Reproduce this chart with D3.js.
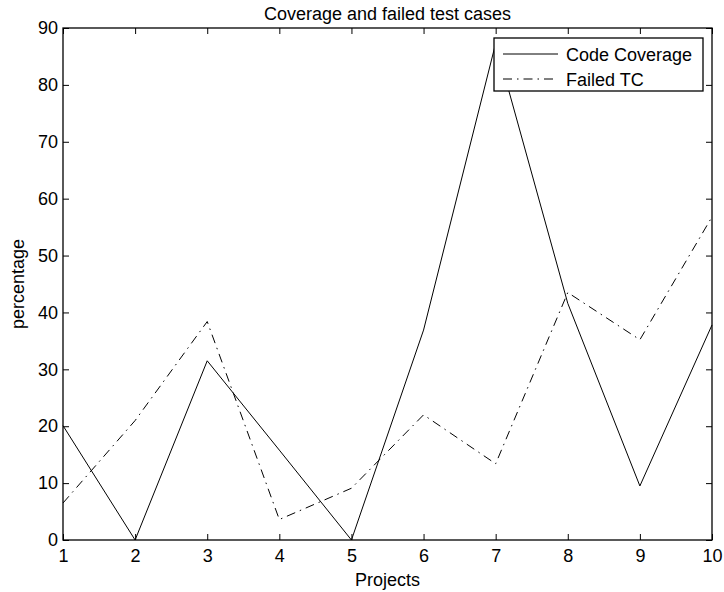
<!DOCTYPE html>
<html>
<head>
<meta charset="utf-8">
<script src="https://cdn.jsdelivr.net/npm/d3@7"></script>
<style>
  body { margin: 0; background: #fff; }
  svg { display: block; font-family: "Liberation Sans", Arial, Helvetica, sans-serif; }
</style>
</head>
<body>
<div id="chart"></div>
<script>
const projects = [1, 2, 3, 4, 5, 6, 7, 8, 9, 10];
const codeCoverage = [20.1, 0, 31.5, 15.8, 0, 36.9, 87.3, 41.6, 9.5, 37.8];
const failedTC = [6.5, 21.0, 38.4, 3.6, 9.1, 22.0, 13.4, 43.5, 35.2, 56.8];
const yTicks = [0, 10, 20, 30, 40, 50, 60, 70, 80, 90];
const seriesNames = ['Code Coverage', 'Failed TC'];

const W = 724, H = 592;
const margin = { top: 28, right: 12, bottom: 52, left: 63 };
const width = W - margin.left - margin.right;
const height = H - margin.top - margin.bottom;

const svg = d3.select('#chart').append('svg')
  .attr('width', W).attr('height', H);
const g = svg.append('g').attr('transform', `translate(${margin.left},${margin.top})`);

const x = d3.scaleLinear().domain([1, 10]).range([0, width]);
const y = d3.scaleLinear().domain([0, 90]).range([height, 0]);

const tickLen = 6;
const fs = '18px';

// Axes (MATLAB style: inward ticks on all four sides)
g.append('g').attr('transform', `translate(0,${height})`)
  .call(d3.axisBottom(x).tickValues(projects).tickSize(-tickLen).tickPadding(9).tickFormat(d3.format('d')))
  .call(a => a.select('.domain').remove())
  .call(a => a.selectAll('.tick line').attr('stroke', '#000'))
  .call(a => a.selectAll('.tick text').attr('fill', '#000').attr('font-size', fs));

g.append('g')
  .call(d3.axisTop(x).tickValues(projects).tickSize(-tickLen).tickFormat(''))
  .call(a => a.select('.domain').remove())
  .call(a => a.selectAll('.tick line').attr('stroke', '#000'));

g.append('g')
  .call(d3.axisLeft(y).tickValues(yTicks).tickSize(-tickLen).tickPadding(5))
  .call(a => a.select('.domain').remove())
  .call(a => a.selectAll('.tick line').attr('stroke', '#000'))
  .call(a => a.selectAll('.tick text').attr('fill', '#000').attr('font-size', fs));

g.append('g').attr('transform', `translate(${width},0)`)
  .call(d3.axisRight(y).tickValues(yTicks).tickSize(-tickLen).tickFormat(''))
  .call(a => a.select('.domain').remove())
  .call(a => a.selectAll('.tick line').attr('stroke', '#000'));

// Frame
g.append('rect').attr('width', width).attr('height', height)
  .attr('fill', 'none').attr('stroke', '#000').attr('stroke-width', 1.3);

// Lines
const line = d3.line().x((d, i) => x(projects[i])).y(d => y(d));
g.append('path').datum(codeCoverage).attr('d', line)
  .attr('fill', 'none').attr('stroke', '#000').attr('stroke-width', 1);
g.append('path').datum(failedTC).attr('d', line)
  .attr('fill', 'none').attr('stroke', '#000').attr('stroke-width', 1)
  .attr('stroke-dasharray', '9,5,1.5,5');

// Title and labels
svg.append('text').attr('x', margin.left + width / 2).attr('y', 20)
  .attr('text-anchor', 'middle').attr('font-size', fs).text('Coverage and failed test cases');
svg.append('text').attr('x', margin.left + width / 2).attr('y', 586)
  .attr('text-anchor', 'middle').attr('font-size', fs).text('Projects');
svg.append('text').attr('transform', `translate(24,${margin.top + height / 2}) rotate(-90)`)
  .attr('text-anchor', 'middle').attr('font-size', fs).text('percentage');

// Legend
const legend = svg.append('g').attr('transform', 'translate(494,38)');
legend.append('rect').attr('width', 209).attr('height', 53)
  .attr('fill', '#fff').attr('stroke', '#000').attr('stroke-width', 1.3);
seriesNames.forEach((name, i) => {
  const ly = 16 + i * 25;
  legend.append('line').attr('x1', 9).attr('x2', 64).attr('y1', ly).attr('y2', ly)
    .attr('stroke', '#000').attr('stroke-width', 1)
    .attr('stroke-dasharray', i === 1 ? '9,5,1.5,5' : null);
  legend.append('text').attr('x', 72).attr('y', ly + 6.5)
    .attr('font-size', fs).text(name);
});
</script>
</body>
</html>
